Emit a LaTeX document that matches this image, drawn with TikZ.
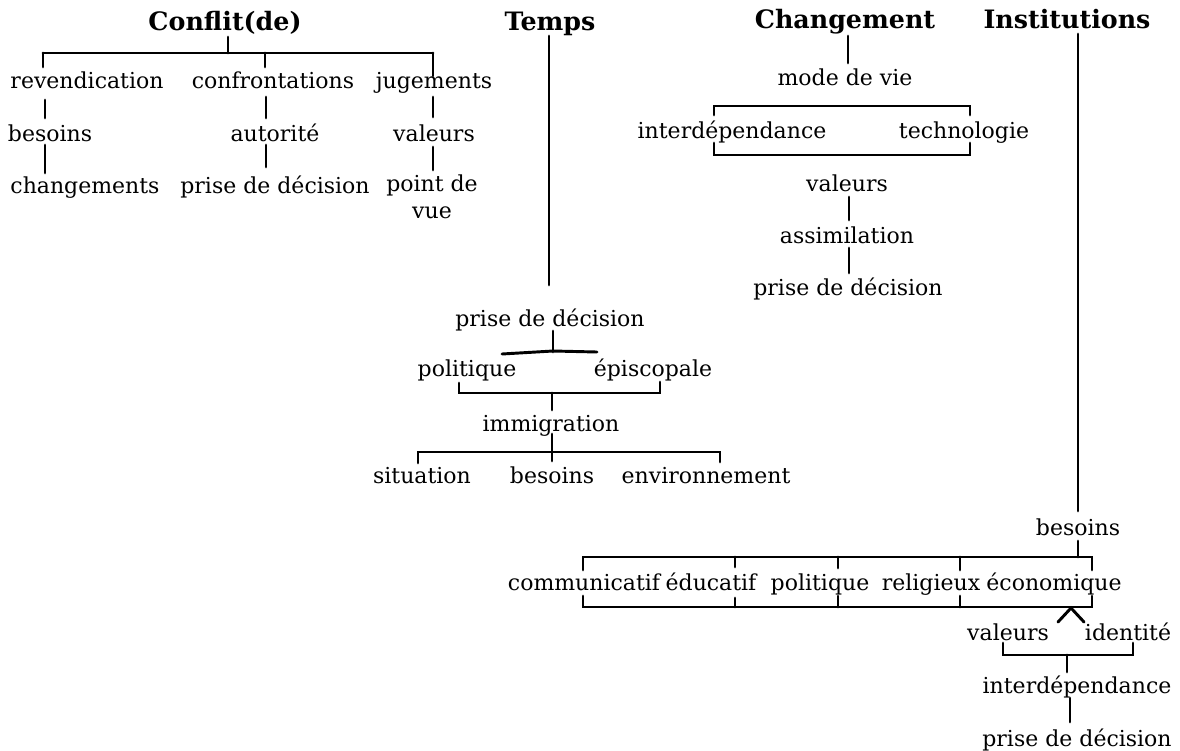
\documentclass[tikz,border=0pt]{standalone}
\usepackage{fontspec}
\setmainfont{DejaVu Serif}
\begin{document}
\begin{tikzpicture}[x=0.75pt,y=-0.75pt,
  lbl/.style={inner sep=0pt,text height=15pt,text depth=2.5pt,
    font=\fontsize{16.5}{19}\selectfont},
  ttl/.style={inner sep=0pt,text height=17pt,text depth=2.5pt,
    font=\fontsize{19}{22}\selectfont\bfseries},
  ln/.style={line width=2.2pt,line cap=round}]
\useasboundingbox (0,0) rectangle (1180,750);

% ---------- Conflit(de) ----------
\node[ttl] (conflit) at (225,21) {Conflit(de)};
\node[lbl] (rev) at (87,80) {revendication};
\node[lbl] (conf) at (273,80) {confrontations};
\node[lbl] (jug) at (434,80) {jugements};
\node[lbl] (besA) at (50,133) {besoins};
\node[lbl] (aut) at (275,133) {autorité};
\node[lbl] (valA) at (434,133) {valeurs};
\node[lbl] (chg) at (85,185) {changements};
\node[lbl] (pddA) at (275,185) {prise de décision};
\node[inner sep=0pt,font=\fontsize{16.5}{20}\selectfont,align=center] (pdv) at (432,197) {point de\\vue};

\coordinate (cJ) at (228,53);
\coordinate (cL) at (43,53);
\coordinate (cM) at (265,53);
\coordinate (cR) at (433,53);
\draw[ln] (228,37) -- (cJ);
\draw[ln] (cL) -- (cR);
\draw[ln] (cL) -- (43,67);
\draw[ln] (cM) -- (265,67);
\draw[ln] (cR) -- (433,76);
\draw[ln] (45,100) -- (45,118);
\draw[ln] (266,97) -- (266,118);
\draw[ln] (433,97) -- (433,117);
\draw[ln] (45,145) -- (45,173);
\draw[ln] (266,145) -- (266,167);
\draw[ln] (433,147) -- (433,170);

% ---------- Temps ----------
\node[ttl] (temps) at (550,21) {Temps};
\node[lbl] (pddB) at (550,318) {prise de décision};
\node[lbl] (polA) at (467,368) {politique};
\node[lbl] (epi) at (653,368) {épiscopale};
\node[lbl] (immig) at (551,423) {immigration};
\node[lbl] (sit) at (422,475) {situation};
\node[lbl] (besB) at (552,475) {besoins};
\node[lbl] (env) at (706,475) {environnement};

\draw[ln] (549,36) -- (549,285);
\draw[ln] (553,331) -- (553,352);
\draw[ln] (502,354) -- (553,351) -- (597,352);
\draw[ln] (459,383) -- (459,393) -- (660,393) -- (660,382);
\draw[ln] (552,393) -- (552,410);
\draw[ln] (552,434) -- (552,461);
\draw[ln] (418,463) -- (418,452) -- (720,452) -- (720,462);

% ---------- Changement ----------
\node[ttl] (chang) at (845,19) {Changement};
\node[lbl] (mdv) at (845,77) {mode de vie};
\node[lbl] (interA) at (732,130) {interdépendance};
\node[lbl] (tech) at (964,130) {technologie};
\node[lbl] (valB) at (847,183) {valeurs};
\node[lbl] (assim) at (847,235) {assimilation};
\node[lbl] (pddC) at (848,287) {prise de décision};

\draw[ln] (848,36) -- (848,63);
\draw[ln] (714,115) -- (714,106) -- (970,106) -- (970,115);
\draw[ln] (714,143) -- (714,155) -- (970,155) -- (970,143);
\draw[ln] (849,197) -- (849,220);
\draw[ln] (849,248) -- (849,273);

% ---------- Institutions ----------
\node[ttl] (inst) at (1067,19) {Institutions};
\node[lbl] (besC) at (1078,527) {besoins};
\node[lbl] (comm) at (584,582) {communicatif};
\node[lbl] (educ) at (711,582) {éducatif};
\node[lbl] (polB) at (820,582) {politique};
\node[lbl] (relig) at (931,582) {religieux};
\node[lbl] (econ) at (1054,582) {économique};
\node[lbl] (valC) at (1008,632) {valeurs};
\node[lbl] (ident) at (1128,632) {identité};
\node[lbl] (interB) at (1077,685) {interdépendance};
\node[lbl] (pddD) at (1077,738) {prise de décision};

\draw[ln] (1078,34) -- (1078,511);
\draw[ln] (1078,541) -- (1078,557);
\draw[ln] (583,570) -- (583,557) -- (1092,557) -- (1092,570);
\draw[ln] (735,557) -- (735,567);
\draw[ln] (838,557) -- (838,568);
\draw[ln] (960,557) -- (960,570);
\draw[ln] (583,596) -- (583,607) -- (1092,607) -- (1092,596);
\draw[ln] (735,607) -- (735,598);
\draw[ln] (838,607) -- (838,596);
\draw[ln] (960,607) -- (960,596);
\draw[ln] (1058,622) -- (1071,608) -- (1084,622);
\draw[ln] (1003,643) -- (1003,655) -- (1133,655) -- (1133,643);
\draw[ln] (1067,655) -- (1067,672);
\draw[ln] (1070,698) -- (1070,722);
\end{tikzpicture}
\end{document}
